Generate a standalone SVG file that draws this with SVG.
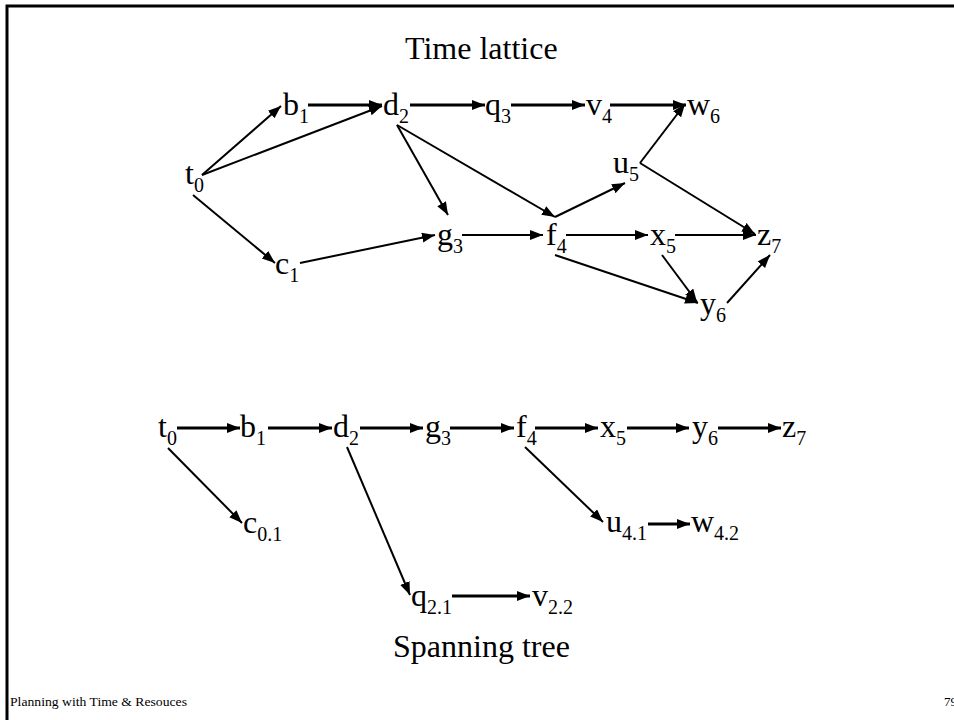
<svg xmlns="http://www.w3.org/2000/svg" width="954" height="720" viewBox="0 0 954 720">
<defs>
<style>
text{font-family:"Liberation Serif","Times New Roman",serif;fill:#000}
.n{font-size:32px}
.s{font-size:20px}
.t{font-size:32px}
.f{font-size:13px}
.c line{stroke:#000;stroke-width:2;marker-end:url(#ah)}
.c line.k{stroke-width:3}
</style>
<marker id="ah" markerUnits="userSpaceOnUse" markerWidth="14" markerHeight="11" refX="13" refY="5" orient="auto">
<path d="M0,0 L13,5 L0,10 z" fill="#000"/>
</marker>
</defs>
<rect width="954" height="720" fill="#fff"/>
<path d="M7,720 V6 H954" fill="none" stroke="#000" stroke-width="3"/>
<text class="t" x="405" y="59">Time lattice</text>
<text class="t" x="393" y="657">Spanning tree</text>
<text class="f" x="10" y="706" textLength="177" lengthAdjust="spacingAndGlyphs">Planning with Time &amp; Resouces</text>
<text class="f" x="944" y="706">79</text>

<g id="lattice-nodes">
<g id="L_t0"><text class="n" x="185" y="184">t<tspan class="s" dy="8">0</tspan></text></g>
<g id="L_b1"><text class="n" x="283" y="115">b<tspan class="s" dy="8">1</tspan></text></g>
<g id="L_d2"><text class="n" x="383" y="115">d<tspan class="s" dy="8">2</tspan></text></g>
<g id="L_q3"><text class="n" x="485" y="115">q<tspan class="s" dy="8">3</tspan></text></g>
<g id="L_v4"><text class="n" x="586" y="115">v<tspan class="s" dy="8">4</tspan></text></g>
<g id="L_w6"><text class="n" x="687" y="115">w<tspan class="s" dy="8">6</tspan></text></g>
<g id="L_u5"><text class="n" x="613" y="173">u<tspan class="s" dy="8">5</tspan></text></g>
<g id="L_c1"><text class="n" x="275" y="274">c<tspan class="s" dy="8">1</tspan></text></g>
<g id="L_g3"><text class="n" x="437" y="245">g<tspan class="s" dy="8">3</tspan></text></g>
<g id="L_f4"><text class="n" x="546" y="245">f<tspan class="s" dy="8">4</tspan></text></g>
<g id="L_x5"><text class="n" x="650" y="245">x<tspan class="s" dy="8">5</tspan></text></g>
<g id="L_z7"><text class="n" x="757" y="245">z<tspan class="s" dy="8">7</tspan></text></g>
<g id="L_y6"><text class="n" x="700" y="314">y<tspan class="s" dy="8">6</tspan></text></g>
</g>

<g id="tree-nodes">
<g id="T_t0"><text class="n" x="158" y="437">t<tspan class="s" dy="8">0</tspan></text></g>
<g id="T_b1"><text class="n" x="240" y="437">b<tspan class="s" dy="8">1</tspan></text></g>
<g id="T_d2"><text class="n" x="333" y="437">d<tspan class="s" dy="8">2</tspan></text></g>
<g id="T_g3"><text class="n" x="425" y="437">g<tspan class="s" dy="8">3</tspan></text></g>
<g id="T_f4"><text class="n" x="516" y="437">f<tspan class="s" dy="8">4</tspan></text></g>
<g id="T_x5"><text class="n" x="600" y="437">x<tspan class="s" dy="8">5</tspan></text></g>
<g id="T_y6"><text class="n" x="692" y="437">y<tspan class="s" dy="8">6</tspan></text></g>
<g id="T_z7"><text class="n" x="782" y="437">z<tspan class="s" dy="8">7</tspan></text></g>
<g id="T_c01"><text class="n" x="243" y="533">c<tspan class="s" dy="8">0.1</tspan></text></g>
<g id="T_u41"><text class="n" x="606" y="532">u<tspan class="s" dy="8">4.1</tspan></text></g>
<g id="T_w42"><text class="n" x="691" y="532">w<tspan class="s" dy="8">4.2</tspan></text></g>
<g id="T_q21"><text class="n" x="411" y="606">q<tspan class="s" dy="8">2.1</tspan></text></g>
<g id="T_v22"><text class="n" x="532" y="606">v<tspan class="s" dy="8">2.2</tspan></text></g>
</g>

<g id="connectors" class="c">
<line x1="202" y1="175" x2="281" y2="106"/>
<line x1="202" y1="175" x2="382" y2="106"/>
<line class="k" x1="308" y1="105" x2="382" y2="105"/>
<line class="k" x1="410" y1="105" x2="485" y2="105"/>
<line class="k" x1="511" y1="105" x2="585" y2="105"/>
<line class="k" x1="610" y1="105" x2="686" y2="105"/>
<line x1="397" y1="125" x2="448" y2="215"/>
<line x1="397" y1="125" x2="555" y2="217"/>
<line x1="193" y1="195" x2="275" y2="263"/>
<line x1="300" y1="263" x2="435" y2="235"/>
<line x1="462" y1="235" x2="543" y2="235"/>
<line x1="566" y1="235" x2="648" y2="235"/>
<line x1="675" y1="235" x2="756" y2="235"/>
<line x1="555" y1="217" x2="625" y2="183"/>
<line x1="640" y1="163" x2="685" y2="104"/>
<line x1="640" y1="163" x2="755" y2="234"/>
<line x1="555" y1="255" x2="698" y2="303"/>
<line x1="662" y1="255" x2="697" y2="302"/>
<line x1="727" y1="303" x2="770" y2="255"/>

<line class="k" x1="177" y1="428" x2="240" y2="428"/>
<line class="k" x1="268" y1="428" x2="332" y2="428"/>
<line class="k" x1="360" y1="428" x2="423" y2="428"/>
<line class="k" x1="450" y1="428" x2="514" y2="428"/>
<line class="k" x1="535" y1="428" x2="598" y2="428"/>
<line class="k" x1="627" y1="428" x2="689" y2="428"/>
<line class="k" x1="718" y1="428" x2="781" y2="428"/>
<line x1="168" y1="448" x2="242" y2="523"/>
<line x1="347" y1="447" x2="410" y2="595"/>
<line x1="525" y1="447" x2="603" y2="522"/>
<line class="k" x1="648" y1="524" x2="690" y2="524"/>
<line class="k" x1="452" y1="596" x2="530" y2="596"/>
</g>
</svg>
